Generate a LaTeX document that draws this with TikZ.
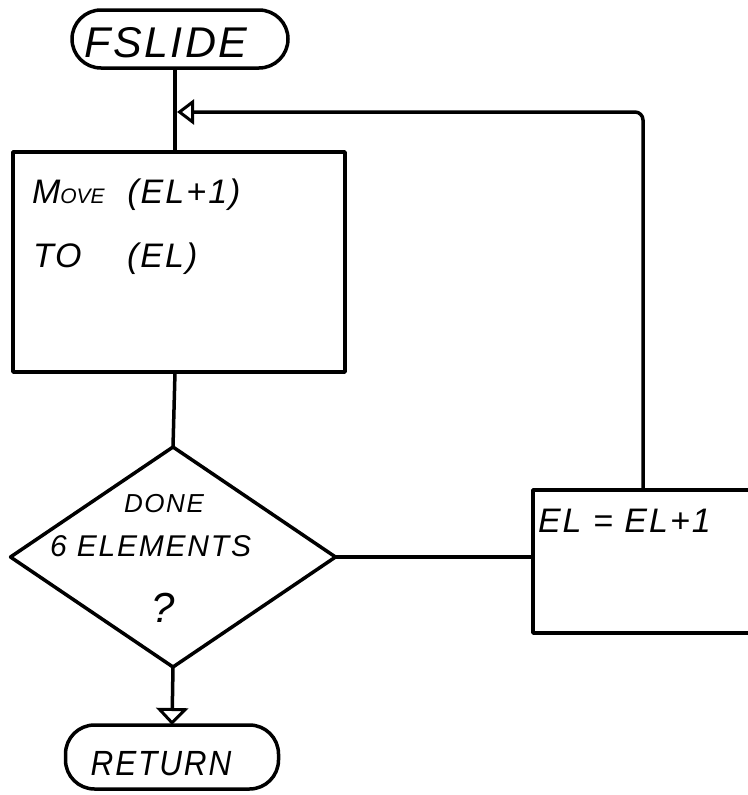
\documentclass[tikz,border=0pt]{standalone}
\usepackage{fontspec}
\setmainfont{Liberation Sans}
\newfontfamily\hand[LetterSpace=6]{Liberation Sans}
\usetikzlibrary{shapes.geometric, arrows.meta}
\begin{document}
\begin{tikzpicture}[x=1pt, y=-1pt,
  every node/.style={inner sep=0pt, outer sep=0pt},
  ln/.style={line width=3.5pt, line join=round},
  pill/.style={ln, draw, rectangle, rounded corners=29pt},
  boxn/.style={ln, draw, rectangle},
  decn/.style={ln, draw, diamond},
  txt/.style={font=\hand\itshape\fontsize{34}{40}\selectfont, anchor=base west},
  opentip/.style={-{Triangle[open, length=17pt, width=#1, line width=3pt]}}
]
\useasboundingbox (0,0) rectangle (747,795);
\fill[white] (0,0) rectangle (747,795);

% terminators
\node[pill, minimum width=216pt, minimum height=58pt] (fs) at (180,39) {};
\node[font=\hand\itshape\fontsize{43}{48}\selectfont, anchor=base] (fst) at (166,57) {FSLIDE};
\node[pill, minimum width=213pt, minimum height=64pt] (ret) at (172,757) {};
\node[font=\hand\itshape\fontsize{35}{40}\selectfont, anchor=base, xscale=0.9] (rett) at (161,775) {RETURN};

% process box
\node[boxn, minimum width=332pt, minimum height=220pt] (mv) at (179,262) {};
\node[txt] (mv1) at (32,203) {M{\fontsize{21}{26}\selectfont\addfontfeature{LetterSpace=0}OVE}\enspace\,(EL+1)};
\node[txt] (mv2) at (33,267) {TO\quad\ (EL)};

% decision
\node[font=\hand\itshape\fontsize{26}{30}\selectfont, anchor=base] (d1) at (164,512) {DONE};
\node[decn, minimum width=325pt, minimum height=220pt] (dec) at (173,557) {};
\node[font=\hand\itshape\fontsize{30}{34}\selectfont, anchor=base west] (d2) at (50,556) {6 ELEMENTS};
\node[font=\hand\itshape\fontsize{42}{46}\selectfont, anchor=base] (d3) at (163,622) {?};

% EL box (right side runs off the page)
\node[boxn, minimum width=222pt, minimum height=143pt] (el) at (644,561.5) {};
\node[txt] (elt) at (538,532) {EL = EL+1};

% connectors
\coordinate (top) at (175,112);
\coordinate (lp) at (643,112);
\draw[ln] (fs.south -| top) -- (mv.north -| top);
\draw[ln] (mv.south -| top) -- (dec.north);
\draw[ln] (dec.east) -- (dec.east -| el.west);
\draw[ln, rounded corners=8pt, opentip=25pt] (el.north -| lp) -- (lp) -- ([xshift=2pt]top);
\draw[ln, opentip=32pt] (dec.south) -- (ret.north);
\end{tikzpicture}
\end{document}
